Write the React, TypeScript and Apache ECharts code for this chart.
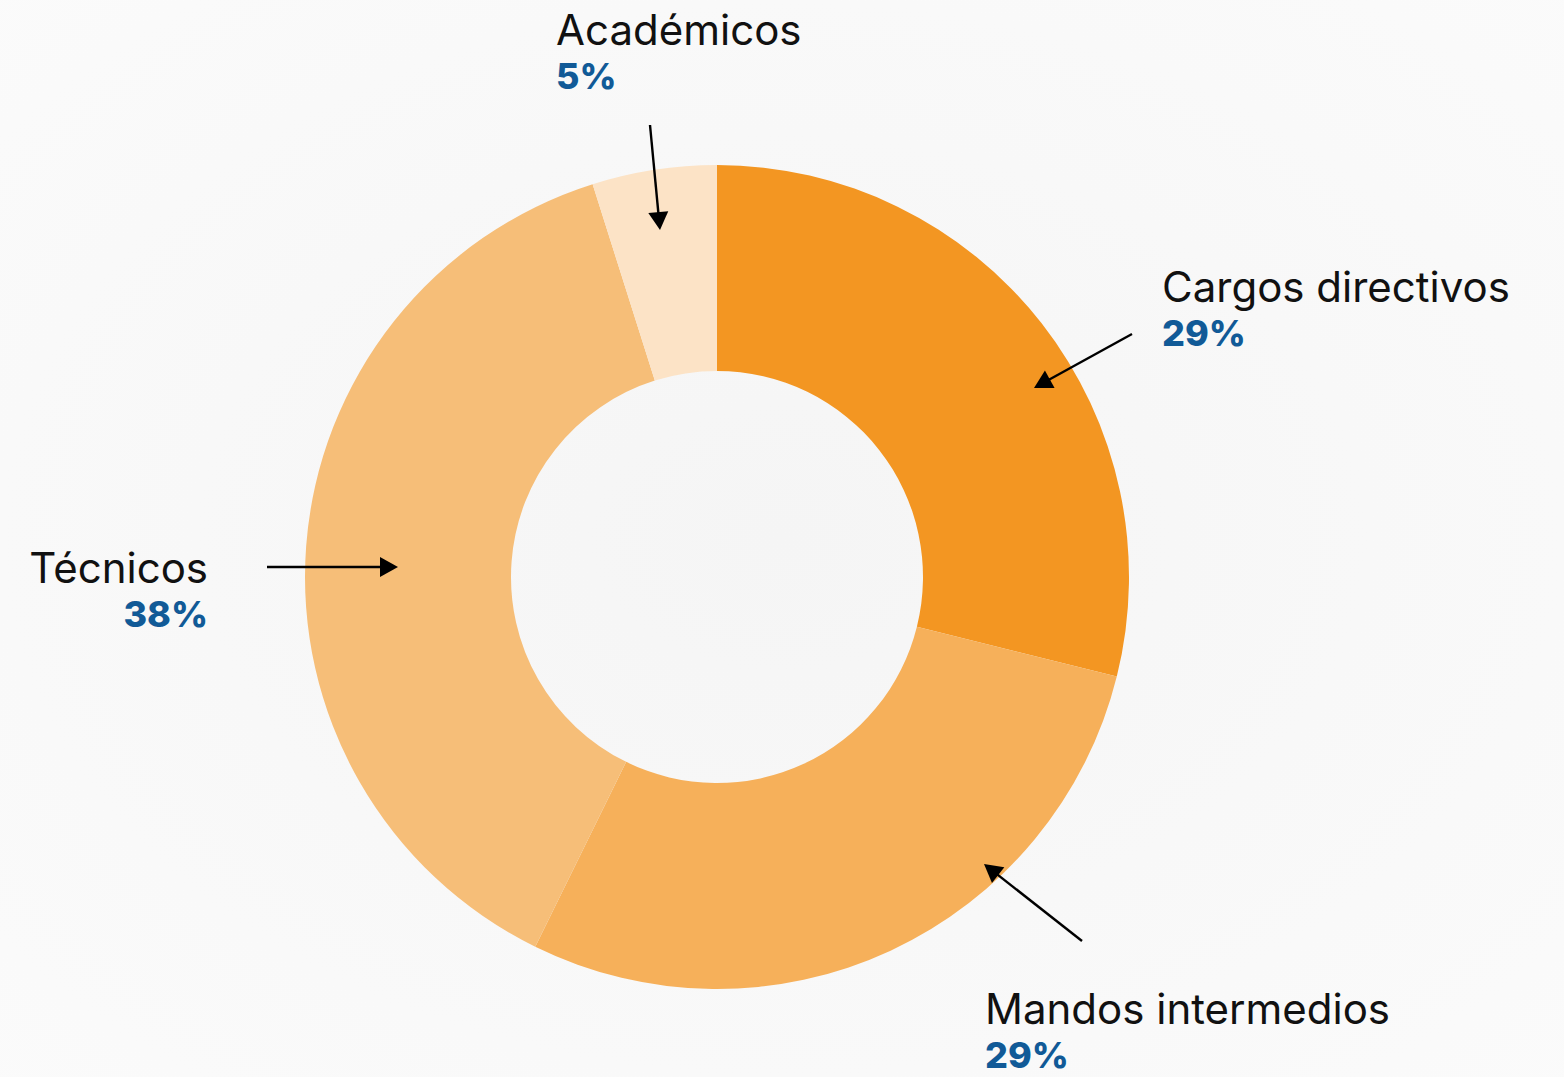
import React, { useEffect, useRef } from "react";
import * as echarts from "echarts";

const categories = ["Cargos directivos", "Mandos intermedios", "Técnicos", "Académicos"];
const values = [29, 28.5, 38, 4.9];
const colors = ["#F39622", "#F6B05A", "#F6BE78", "#FCE3C6"];

// label anchor: [x, name baseline y, align]
const labelPos: [number, number, "left" | "right"][] = [
  [1162, 302, "left"],
  [985, 1024, "left"],
  [208, 583, "right"],
  [556, 45, "left"],
];
// arrows: [fromX, fromY, tipX, tipY]
const arrows: [number, number, number, number][] = [
  [1132, 334, 1034, 388],
  [1082, 941, 984, 864],
  [267, 567, 398, 567],
  [650, 125, 660, 230],
];

const FONT = "Inter, 'Noto Sans', sans-serif";

function arrowGraphics(a: [number, number, number, number]) {
  const [x1, y1, x2, y2] = a;
  const dx = x2 - x1;
  const dy = y2 - y1;
  const len = Math.sqrt(dx * dx + dy * dy);
  const ux = dx / len;
  const uy = dy / len;
  const hl = 18;
  const hw = 10;
  const bx = x2 - ux * hl;
  const by = y2 - uy * hl;
  const px = -uy;
  const py = ux;
  return [
    {
      type: "line",
      z: 100,
      shape: { x1, y1, x2: bx + ux * 2, y2: by + uy * 2 },
      style: { stroke: "#000", lineWidth: 2.4 },
    },
    {
      type: "polygon",
      z: 100,
      shape: {
        points: [
          [x2, y2],
          [bx + px * hw, by + py * hw],
          [bx - px * hw, by - py * hw],
        ],
      },
      style: { fill: "#000" },
    },
  ];
}

export default function App() {
  const ref = useRef<HTMLDivElement>(null);
  useEffect(() => {
    document.body.style.margin = "0";
    const chart = echarts.init(ref.current!, null, { renderer: "svg" });
    const graphics: any[] = [];
    categories.forEach((name, i) => {
      const [x, y, align] = labelPos[i];
      graphics.push({
        type: "text",
        z: 100,
        x,
        y: y + 5,
        style: {
          text: name,
          font: `400 42px ${FONT}`,
          fill: "#111",
          align,
          verticalAlign: "bottom",
        },
      });
      graphics.push({
        type: "text",
        z: 100,
        x,
        y: y + 49,
        style: {
          text: `${Math.round(values[i])}%`,
          font: `800 36px ${FONT}`,
          fill: "#115A97",
          align,
          verticalAlign: "bottom",
        },
      });
      graphics.push(...arrowGraphics(arrows[i]));
    });
    chart.setOption({
      animation: false,
      backgroundColor: {
        type: "radial",
        x: 0.5,
        y: 0.5,
        r: 0.75,
        colorStops: [
          { offset: 0, color: "#F5F5F5" },
          { offset: 1, color: "#FBFBFB" },
        ],
      },
      series: [
        {
          type: "pie",
          z: 1,
          center: [717, 577],
          radius: [206, 412],
          startAngle: 90,
          clockwise: true,
          label: { show: false },
          labelLine: { show: false },
          itemStyle: { borderWidth: 0 },
          emphasis: { disabled: true },
          data: categories.map((name, i) => ({
            name,
            value: values[i],
            itemStyle: { color: colors[i] },
          })),
        },
      ],
      graphic: graphics,
    });
    return () => chart.dispose();
  }, []);
  return <div ref={ref} style={{ width: 1564, height: 1077 }} />;
}
